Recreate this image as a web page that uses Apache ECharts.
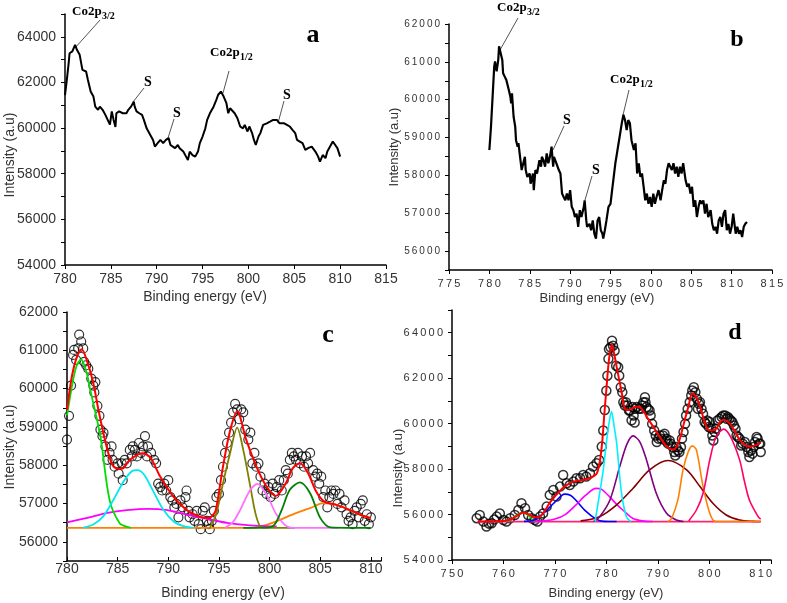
<!DOCTYPE html>
<html><head><meta charset="utf-8">
<script src="https://cdn.jsdelivr.net/npm/echarts@6/dist/echarts.min.js"></script>
<style>html,body{margin:0;padding:0;background:#fff}#c{width:787px;height:603px}</style>
</head><body><div id="c"></div>
<script>
// ---------- Panel a : raw spectrum ----------
const aX=[780.0,780.2,780.4,780.5,780.8,781.1,781.3,781.6,781.9,782.3,782.5,782.8,783.1,783.3,783.6,783.8,784.1,784.4,784.6,784.9,785.1,785.3,785.5,785.6,785.9,786.3,786.7,786.9,787.2,787.5,787.6,787.8,788.1,788.4,788.6,788.9,789.3,789.6,789.8,790.1,790.4,790.7,791.0,791.3,791.5,791.7,792.0,792.3,792.5,792.9,793.2,793.4,793.6,793.9,794.2,794.5,794.7,795.0,795.3,795.5,795.8,796.2,796.5,796.7,797.0,797.3,797.6,797.8,798.0,798.2,798.5,798.8,799.1,799.4,799.6,799.9,800.1,800.4,800.6,800.8,801.1,801.3,801.6,802.0,802.4,802.7,803.1,803.4,803.6,803.9,804.2,804.5,804.8,805.1,805.3,805.6,805.9,806.2,806.5,806.9,807.3,807.6,807.8,808.1,808.4,808.6,808.9,809.2,809.4,809.7,809.9,810.0];
const aY=[61450,62110,62850,63280,63360,63650,63430,63210,62550,62480,62110,61600,61380,60940,60800,60940,60800,60580,60580,60150,60730,60360,60050,60650,60730,60650,60650,60800,60940,61160,60940,60730,60650,60580,60360,59990,59700,59480,59190,59340,59480,59340,59480,59560,59260,59340,59120,59260,59120,58970,58750,58600,58970,58820,58750,58970,59340,59630,59990,60360,60650,60940,61240,61460,61600,61380,61090,60650,60870,60940,60650,60430,60070,59990,60140,59850,60070,59780,59480,59260,59630,59780,60140,60210,60290,60360,60360,60210,60290,60210,60140,60070,59920,59780,59480,59410,59340,59040,59120,59190,58970,58750,58530,58820,58680,58970,59190,59410,59340,59120,59120,58750];

// ---------- Panel b : raw spectrum ----------
const bSpectrum=[[780.0,58670],[780.2,59290],[780.4,60080],[780.6,60880],[780.7,61010],[780.9,60750],[781.1,61050],[781.2,61410],[781.4,61230],[781.6,61050],[781.7,60700],[781.9,60610],[782.1,60520],[782.4,60260],[782.6,60080],[782.7,59900],[782.8,60170],[783.0,59550],[783.2,59290],[783.3,58930],[783.5,58760],[783.6,58850],[783.8,58490],[784.0,58140],[784.2,58320],[784.4,58490],[784.5,58140],[784.7,57960],[785.0,58050],[785.1,57780],[785.4,58050],[785.5,57610],[785.7,58140],[785.9,58050],[786.2,58400],[786.4,58230],[786.5,58490],[786.7,58400],[786.9,58230],[787.1,58580],[787.3,58320],[787.5,58490],[787.7,58760],[787.9,58230],[788.0,58490],[788.3,58320],[788.6,58140],[788.8,58050],[789.0,57520],[789.2,57430],[789.4,57340],[789.6,57520],[789.8,57340],[790.0,57610],[790.2,57170],[790.4,57080],[790.6,56900],[790.8,56990],[791.0,56640],[791.2,57080],[791.4,56900],[791.7,57170],[791.8,57340],[792.0,56810],[792.1,56640],[792.4,56720],[792.6,56550],[792.8,56810],[793.0,56460],[793.2,56330],[793.4,56810],[793.6,56900],[793.8,56550],[794.0,56460],[794.1,56330],[794.3,56550],[794.5,56810],[794.75,57170],[795.0,57250],[795.2,57610],[795.4,57960],[795.6,58320],[795.8,58580],[796.0,58850],[796.2,59110],[796.4,59380],[796.6,59600],[796.8,59460],[797.0,59200],[797.2,59460],[797.4,59380],[797.6,58930],[797.9,58670],[798.1,58850],[798.3,58050],[798.5,58320],[798.7,57960],[798.9,58050],[799.1,57700],[799.3,57340],[799.5,57520],[799.7,57250],[799.9,57430],[800.1,57170],[800.3,57520],[800.5,57250],[800.7,57430],[800.95,57610],[801.2,57340],[801.4,57610],[801.6,57870],[801.8,57780],[802.0,58140],[802.2,58320],[802.4,58230],[802.6,58140],[802.8,58320],[803.0,58050],[803.2,58230],[803.4,57960],[803.6,58230],[803.8,58050],[804.0,58320],[804.3,57870],[804.5,57700],[804.7,57780],[804.9,57520],[805.1,57700],[805.3,57170],[805.5,57340],[805.7,56900],[805.9,57170],[806.1,57340],[806.3,57250],[806.5,57340],[806.7,56990],[806.9,57250],[807.1,56900],[807.4,57080],[807.6,56720],[807.8,56550],[808.0,56640],[808.2,56460],[808.4,56810],[808.6,56900],[808.8,56640],[809.0,56990],[809.2,57080],[809.4,56550],[809.6,56720],[809.8,56460],[810.0,56640],[810.2,56990],[810.5,56460],[810.7,56640],[810.9,56460],[811.1,56550],[811.3,56370],[811.5,56640],[811.7,56720],[811.9,56770]];

// ---------- Panel c : fitted components ----------
const cGreen=[[780,59300],[780.6,60226],[781.0,60630],[781.4,60760],[782.0,60350],[782.3,59966],[783.3,58747],[784.2,57096],[785.2,56488],[786.05,56383],[786.3,56365]];
const cCyan=[[781.6,56370],[782.6,56452],[783.6,56670],[784.6,57104],[785.6,57583],[786.4,57843],[786.95,57870],[787.6,57756],[788.6,57278],[789.5,56843],[790.5,56539],[791.5,56409],[792.5,56365]];
const cMagenta=[[780,56510],[782,56626],[784,56757],[785.9,56826],[788.0,56860],[789.9,56826],[791.8,56713],[793.8,56600],[795.8,56496],[797.8,56435],[799.7,56409],[800.7,56400]];
const cOlive=[[794.1,56365],[794.7,56700],[795.4,57530],[796.1,58314],[796.8,58980],[797.4,58400],[798.1,57443],[798.6,56750],[799.1,56390],[799.6,56365],[802.5,56365]];
const cPink=[[795.6,56365],[796.4,56520],[797.1,56835],[798.1,57357],[798.8,57513],[799.8,57182],[800.6,56750],[801.5,56443],[802.2,56365],[806.8,56365]];
const cDkGreen=[[797.4,56365],[800.0,56380],[800.5,56450],[801.2,56835],[802.0,57357],[803.0,57550],[804.0,57270],[805.0,56626],[806.0,56380],[810.0,56365]];
const cOrange=[[780,56365],[798.4,56365],[799.5,56430],[800.6,56530],[802.6,56750],[804.0,56880],[805.3,57010],[806.6,56965],[807.9,56835],[809.2,56680],[810,56620]];
const cFit=[[780,59444],[780.5,60350],[781.0,60850],[781.45,61027],[782.0,60700],[782.6,60140],[783.1,59450],[783.6,58836],[784.1,58300],[784.6,57965],[785.4,57905],[786.2,58140],[787.4,58314],[788.2,58210],[789.2,57704],[790.5,57182],[791.8,56835],[793.1,56660],[794.0,56620],[794.4,56700],[794.7,56835],[795.4,57965],[796.1,58900],[796.8,59400],[797.7,58660],[798.7,57965],[799.7,57443],[800.6,57200],[801.6,57530],[802.3,57923],[803.0,58053],[803.8,57792],[804.6,57313],[805.4,57052],[806.6,56965],[807.9,56835],[809.2,56680],[810,56620]];

// ---------- Panel d : low-energy data + fitted components ----------
const dLowData=[[754.8,55840],[755.4,55980],[756.1,55690],[756.7,55470],[757.2,55600],[757.7,55620],[758.2,55780],[758.7,55910],[759.3,56050],[760.0,55760],[760.6,55690],[761.3,55840],[762.2,55980],[762.9,56200],[763.5,56500],[764.2,56280],[764.8,55980],[765.5,55840],[766.1,55760],[766.6,55690],[767.1,55910],[767.7,56050],[768.4,56350],[769.0,56860],[769.7,57080],[770.3,56790],[771.0,57230],[771.6,57740],[772.3,57380],[772.9,57300],[773.6,57450],[774.2,57600],[774.9,57600],[775.5,57740],[776.1,57670],[776.8,57820],[777.4,58110],[778.1,58260],[778.6,58400],[779.1,58990],[779.4,59700],[779.7,60600]];
const dBase=[[755,55691],[810,55691]];
const dGreen=[[760.5,55691],[761.5,55780],[762.5,55950],[763.7,56084],[764.8,55980],[765.6,55780],[766.2,55691]];
const dBlue=[[764,55700],[766,55760],[768,56100],[770,56550],[771.9,56900],[773,56850],[774,56650],[776,56150],[778,55800],[779.5,55700],[782,55691]];
const dMagenta=[[766,55691],[768,55720],[770,55800],[772,56000],[774,56400],[776,56850],[778,57150],[779,57120],[780.6,56790],[782,56450],[783.2,56200],[785.1,55837],[787,55720],[789,55691]];
const dCyan=[[777.8,55691],[778.7,56938],[779.4,57965],[780.0,59141],[780.5,60000],[781.0,60533],[781.5,59900],[782.0,59141],[782.95,56938],[783.9,55907],[784.8,55691]];
const dPurple=[[777.5,55691],[778.7,55907],[780.7,56643],[782.6,58110],[784,59100],[785.2,59463],[786.5,59200],[787.8,58405],[789.7,56938],[791.7,56057],[793.6,55760],[795,55691]];
const dBrown=[[775,55720],[778.7,55907],[782.0,56423],[785.2,57158],[788.4,57965],[792.0,58375],[795.6,57965],[798.2,57229],[800.7,56497],[803.3,55982],[805.9,55762],[808.5,55700],[810,55691]];
const dOrange=[[792,55691],[792.7,55837],[793.9,56643],[794.9,57965],[795.9,58750],[796.7,59022],[797.5,58846],[798.8,57229],[800.1,56057],[801.1,55700],[802,55691],[810,55691]];
const dCrimson=[[796,55720],[797.5,56200],[798.8,56938],[800.1,58405],[801.3,59400],[802.8,59758],[804.2,59400],[805.9,58405],[806.8,57500],[807.8,56643],[809.5,55907],[810,55800]];
const dFit=[[755,55691],[760,55720],[761.5,55800],[763,56000],[763.8,56090],[765,56000],[766,55880],[767,55900],[768,56150],[769,56520],[770,56800],[771,57050],[772,57250],[773,57380],[774,57470],[775.5,57524],[777,57620],[778.1,57800],[778.7,58300],[779.2,59200],[779.6,60400],[780.0,61500],[780.5,62800],[781.05,63485],[781.5,63100],[782,62500],[783,61350],[783.6,60650],[784.3,60600],[785.2,60700],[786.2,60750],[787,60620],[788,60250],[789,59900],[790,59550],[791,59200],[792,58950],[793,58850],[794,59150],[795,59950],[796,60800],[796.7,61340],[797.5,61150],[798.2,60750],[799,60150],[799.8,59727],[800.6,59700],[801.4,59800],[802.7,60167],[804.0,60000],[805,59650],[805.9,59286],[807.2,59022],[808.2,58990],[809.2,59066],[810,59167]];

// ---------- tick label values ----------
const aXTicks=[780,785,790,795,800,805,810,815];
const bXTicks=[775,780,785,790,795,800,805,810,815];
const cXTicks=[780,785,790,795,800,805,810];
const dXTicks=[750,760,770,780,790,800,810];

const aSpectrum=aX.map((x,i)=>[x,aY[i]]);
const dData=dLowData.concat(aSpectrum);

const SANS='"Liberation Sans", Arial, sans-serif';
const SERIF='"Liberation Serif","Times New Roman",serif';
const spaced=v=>String(v).split('').join('\u2009');

function xAx(gi,min,max,interval,ticks,fs,margin,sp,inside){
  return {gridIndex:gi,type:'value',min:min,max:max,interval:interval,
    axisLine:{show:true,onZero:false,lineStyle:{color:'#000',width:1.5}},
    axisTick:{show:true,inside:!!inside,length:4,lineStyle:{color:'#000',width:1}},
    splitLine:{show:false},
    axisLabel:{show:true,margin:margin,fontSize:fs,color:'#333',fontFamily:SANS,
      formatter:v=>ticks.indexOf(v)>=0?(sp?spaced(v):String(v)):''}};
}
function yAx(gi,min,max,interval,labelEvery,maxLabel,fs,sp){
  return {gridIndex:gi,type:'value',min:min,max:max,interval:interval,
    axisLine:{show:true,onZero:false,lineStyle:{color:'#000',width:1.5}},
    axisTick:{show:true,inside:false,length:4,lineStyle:{color:'#000',width:1}},
    splitLine:{show:false},
    axisLabel:{show:true,margin:9,fontSize:fs,color:'#333',fontFamily:SANS,
      formatter:v=>(v%labelEvery===0&&v<=maxLabel)?(sp?spaced(v):String(v)):''}};
}
function ln(gi,data,color,w,smooth,z){
  return {type:'line',xAxisIndex:gi,yAxisIndex:gi,data:data,showSymbol:false,symbol:'none',
    smooth:smooth,lineStyle:{color:color,width:w},z:z||3,silent:true,clip:true};
}
function sc(gi,data,size,bw){
  return {type:'scatter',xAxisIndex:gi,yAxisIndex:gi,data:data,symbol:'circle',symbolSize:size,
    itemStyle:{color:'rgba(0,0,0,0)',borderColor:'#000',borderWidth:bw},z:2,silent:true};
}
function txt(x,y,t,font,align,vAlign,rot,fill){
  return {type:'text',x:x,y:y,rotation:rot||0,silent:true,
    style:{text:t,font:font,fill:fill||'#000',align:align||'left',verticalAlign:vAlign||'middle',
      textAlign:align||'left',textVerticalAlign:vAlign||'middle'}};
}
function seg(x1,y1,x2,y2){
  return {type:'line',silent:true,shape:{x1:x1,y1:y1,x2:x2,y2:y2},style:{stroke:'#555',lineWidth:1}};
}
const LB='bold 13px '+SERIF, SB='bold 10px '+SERIF, SL='bold 14px '+SERIF;

const option={
  animation:false,
  backgroundColor:'#fff',
  grid:[
    {left:65,top:14,width:321,height:251,outerBoundsMode:'none',containLabel:false},
    {left:449,top:24,width:323,height:246,outerBoundsMode:'none',containLabel:false},
    {left:67,top:312,width:314,height:249,outerBoundsMode:'none',containLabel:false},
    {left:452,top:310,width:319,height:250,outerBoundsMode:'none',containLabel:false}
  ],
  xAxis:[
    xAx(0,780,815,5,aXTicks,14,7,false,false),
    xAx(1,775,815,5,bXTicks,11,8,true,false),
    xAx(2,780,811,5,cXTicks,14,1,false,true),
    xAx(3,750,812,10,dXTicks,11,8,true,false)
  ],
  yAxis:[
    yAx(0,54000,65000,1000,2000,64000,14,false),
    yAx(1,55500,62000,500,1000,62000,10,true),
    yAx(2,55500,62000,500,1000,62000,14,false),
    yAx(3,54000,65000,1000,2000,64000,11,true)
  ],
  series:[
    ln(0,aSpectrum,'#000',2,false),
    ln(1,bSpectrum,'#000',2.2,false),
    sc(2,bSpectrum.filter(p=>p[0]<=810.05),9,1.2),
    ln(2,cOrange,'#ff8000',1.8,0.3),
    ln(2,cMagenta,'#ff00ff',1.8,0.3),
    ln(2,cGreen,'#00dd00',1.8,0.3),
    ln(2,cCyan,'#00e8f0',1.8,0.3),
    ln(2,cOlive,'#808000',1.8,0.3),
    ln(2,cPink,'#ff70ff',1.8,0.3),
    ln(2,cDkGreen,'#008000',1.8,0.3),
    ln(2,cFit,'#ff0000',2,0.3,5),
    sc(3,dData,9,1.5),
    ln(3,dBase,'#ff2277',1.8,false),
    ln(3,dGreen,'#00cc00',1.6,0.3),
    ln(3,dBlue,'#0000ff',1.6,0.3),
    ln(3,dMagenta,'#ff00ff',1.6,0.3),
    ln(3,dBrown,'#800000',1.6,0.3),
    ln(3,dPurple,'#800080',1.6,0.3),
    ln(3,dCyan,'#00f0ff',1.6,0.3),
    ln(3,dOrange,'#ff8000',1.6,0.3),
    ln(3,dCrimson,'#ff0066',1.6,0.3),
    ln(3,dFit,'#ff0000',2,0.3,5)
  ],
  graphic:[
    // axis titles
    txt(10,155,'Intensity (a.u)','14px '+SANS,'center','middle',Math.PI/2,'#333'),
    txt(205,297,'Binding energy (eV)','14px '+SANS,'center','middle',0,'#333'),
    txt(394,147,'Intensity (a.u)','13px '+SANS,'center','middle',Math.PI/2,'#333'),
    txt(597,298,'Binding energy (eV)','13px '+SANS,'center','middle',0,'#333'),
    txt(10,447,'Intensity (a.u)','14px '+SANS,'center','middle',Math.PI/2,'#333'),
    txt(223,593,'Binding energy (eV)','14px '+SANS,'center','middle',0,'#333'),
    txt(398,468,'Intensity (a.u)','13px '+SANS,'center','middle',Math.PI/2,'#333'),
    txt(606,593,'Binding energy (eV)','13px '+SANS,'center','middle',0,'#333'),
    // panel letters
    txt(313,35,'a','bold 26px '+SERIF,'center','middle'),
    txt(737,40,'b','bold 24px '+SERIF,'center','middle'),
    txt(328,335,'c','bold 26px '+SERIF,'center','middle'),
    txt(735,333,'d','bold 24px '+SERIF,'center','middle'),
    // panel a annotations
    txt(72,12,'Co2p',LB),txt(102,16,'3/2',SB),seg(100,20,75,48),
    txt(210,53,'Co2p',LB),txt(240,57,'1/2',SB),seg(229,71,223,93),
    txt(148,82,'S',SL,'center'),seg(144,88,133,102),
    txt(177,113,'S',SL,'center'),seg(174,119,168,138),
    txt(287,95,'S',SL,'center'),seg(284,101,278,123),
    // panel b annotations
    txt(497,8,'Co2p',LB),txt(527,12,'3/2',SB),seg(518,18,500,50),
    txt(610,80,'Co2p',LB),txt(640,84,'1/2',SB),seg(629,90,623,115),
    txt(567,120,'S',SL,'center'),seg(564,126,553,150),
    txt(596,170,'S',SL,'center'),seg(592,176,585,200)
  ]
};
const chart=echarts.init(document.getElementById('c'),null,{renderer:'canvas'});
chart.setOption(option);
</script>
</body></html>
